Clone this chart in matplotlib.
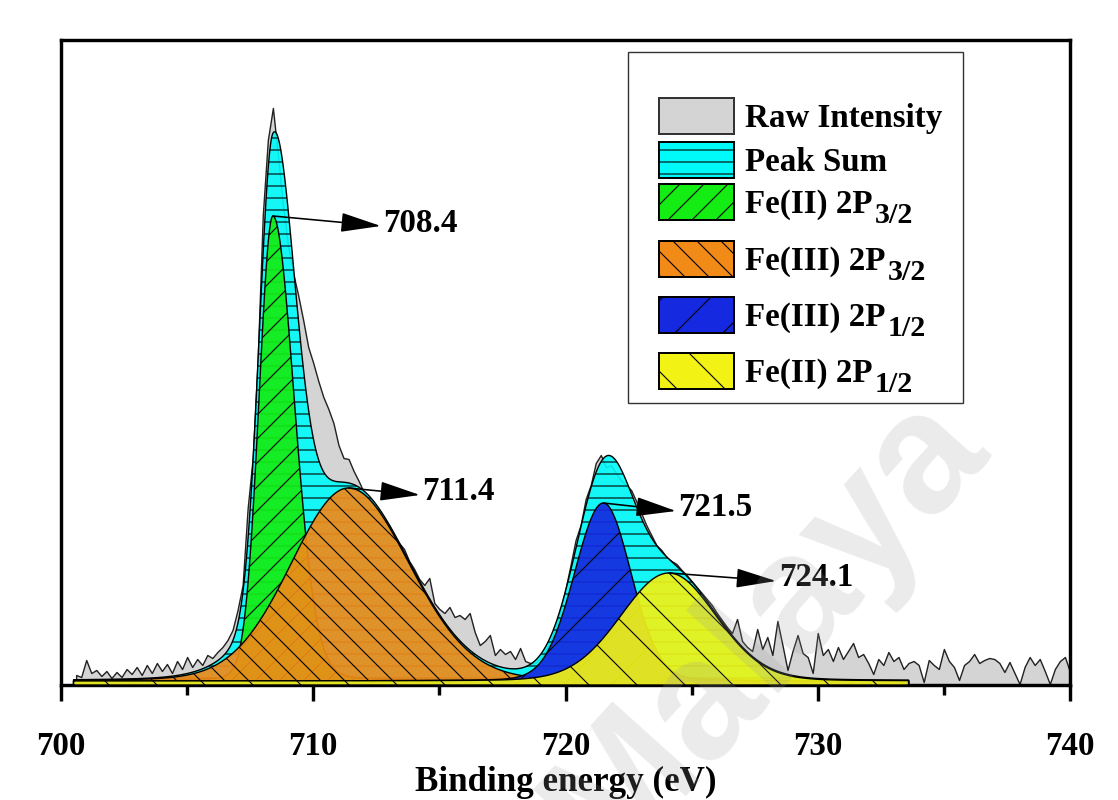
import numpy as np
import matplotlib.pyplot as plt
from matplotlib.patches import Rectangle

plt.rcParams['font.family'] = ['Liberation Serif', 'DejaVu Serif']
plt.rcParams['font.weight'] = 'bold'
plt.rcParams['hatch.linewidth'] = 0.55
plt.rcParams['hatch.color'] = 'black'

# Fe 2p raw spectrum, 0.2 eV steps from 700.6 to 740.0 eV (a.u.)
raw_counts = [
    10, 8, 25, 12, 15, 9, 14, 7, 13, 8, 16, 11, 18, 10, 20, 12, 22, 14, 21, 12,
    24, 16, 28, 18, 26, 20, 30, 27,
    33, 38, 45, 55, 75, 100, 177, 227, 327, 470, 545, 577, 530, 480, 440, 412,
    390, 365, 338, 322, 304, 288, 276, 262, 240, 227, 226, 214, 204, 193,
    186, 178, 172, 165, 160, 150, 142, 136, 124, 116, 106, 100, 107, 82, 76, 72,
    78, 68, 70, 66, 72, 53, 40, 44, 50, 30, 36, 31, 34, 26, 37, 24,
    22, 22, 27, 34, 44, 56, 75, 96, 120, 145, 160, 186, 200, 222, 230, 218,
    220, 212, 205, 200, 195, 184, 172, 160, 150, 140, 135, 128, 124, 121, 115,
    110, 104, 98, 92, 86, 80, 72, 65, 58, 52,
    66, 44, 38, 34, 56, 36, 48, 30, 64, 40, 15, 34, 50, 32, 28, 12, 52, 30, 36,
    24, 38, 26, 34, 42, 28, 31, 22, 11, 26, 20, 33, 24, 28, 16, 22, 24, 20, 3,
    25, 20, 16, 36, 24, 18, 5, 20, 24, 31, 22, 25, 27, 26, 22, 13, 23, 12, 1,
    18, 28, 20, 26, 14, 1, 16, 24, 28, 13,
]
raw_energy = np.linspace(700.6, 740.0, len(raw_counts))

# fitted components: centre (eV), height, left / right half widths (eV)
peak_names = ['Fe(II) 2P', 'Fe(III) 2P', 'Fe(III) 2P', 'Fe(II) 2P']
peak_orbitals = ['3/2', '3/2', '1/2', '1/2']
peak_centres = [708.4, 711.4, 721.5, 724.1]
peak_heights = [465, 193, 178, 108]
peak_hw_left = [0.65, 2.7, 1.35, 2.25]
peak_hw_right = [1.0, 2.85, 1.3, 2.2]
lorentz_frac = 0.08
background = 4
fit_range = (700.5, 733.6)

raw_color = '#d4d4d4'
sum_color = (0.0, 0.98, 0.98)
peak_colors = [(0.08, 0.93, 0.08), (0.95, 0.54, 0.09),
               (0.08, 0.16, 0.88), (0.95, 0.95, 0.08)]
peak_hatches = ['//', '\\\\', '/', '\\']

# label anchors for the peak position callouts
callout_x = [712.78, 714.33, 724.48, 728.45]
callout_y = [462, 193, 177, 107]


def component(x, c, h, wl, wr):
    w = np.where(x < c, wl, wr)
    u = (x - c) / w
    shape = (1 - lorentz_frac) * np.exp(-np.log(2) * u ** 2) + lorentz_frac / (1 + u ** 2)
    return h * shape + background


fit_x = np.linspace(fit_range[0], fit_range[1], 1400)
comps = [component(fit_x, c, h, wl, wr) for c, h, wl, wr in
         zip(peak_centres, peak_heights, peak_hw_left, peak_hw_right)]
peak_sum = sum(comp - background for comp in comps) + background

W, H = 1118, 800
fig = plt.figure(figsize=(W / 144, H / 144), dpi=144)
ax = fig.add_axes([61 / W, 115 / H, 1009 / W, 645 / H])

ax.fill_between(raw_energy, 0, raw_counts, facecolor=raw_color,
                edgecolor='#222222', linewidth=0.7, zorder=1)
ax.fill_between(fit_x, 0, peak_sum, facecolor=sum_color + (0.9,),
                edgecolor='black', linewidth=0.7, hatch='--', zorder=2)
for i, comp in enumerate(comps):
    ax.fill_between(fit_x, 0, comp, facecolor=peak_colors[i] + (0.92,), edgecolor='black',
                    linewidth=0.7, hatch=peak_hatches[i], zorder=3 + i)

# arrows from each component maximum to its position label
for i, c in enumerate(peak_centres):
    top = component(np.array([c]), c, peak_heights[i], peak_hw_left[i], peak_hw_right[i])[0]
    ax.annotate('', xy=(callout_x[i] - 0.1, callout_y[i] - 3), xytext=(c, top),
                arrowprops=dict(arrowstyle='-|>,head_length=1.75,head_width=0.42',
                                color='black', lw=0.8, shrinkA=0, shrinkB=0,
                                mutation_scale=10), zorder=10)
    ax.text(callout_x[i], callout_y[i], f'{c:.1f}', fontsize=16.5, fontweight='bold',
            ha='left', va='center', zorder=10)

ax.set_xlim(700, 740)
ax.set_ylim(0, 645)
ax.set_xticks(range(700, 741, 10))
ax.set_xticks([705, 715, 725, 735], minor=True)
ax.set_yticks([])
ax.tick_params(axis='x', which='major', direction='out', length=8, width=1.7,
               pad=15, labelsize=16.5)
ax.tick_params(axis='x', which='minor', direction='out', length=5, width=1.7)
for sp in ax.spines.values():
    sp.set_linewidth(1.7)
ax.set_xlabel('Binding energy (eV)', fontsize=17.5, fontweight='bold', labelpad=2)

# legend, laid out by hand in figure pixels so the subscripted rows get extra room
legend_faces = [raw_color, sum_color] + peak_colors
legend_hatches = [None, '--'] + peak_hatches
legend_names = ['Raw Intensity', 'Peak Sum'] + peak_names
legend_subs = [None, None] + peak_orbitals
row_tops = [98, 142, 184, 241, 297, 353]
fig_px = fig.transFigure

ax.add_patch(Rectangle((628 / W, 1 - 403 / H), 335 / W, 351 / H, transform=fig_px,
                       facecolor='white', edgecolor='#333333', linewidth=0.7,
                       zorder=8, clip_on=False))
for i, top in enumerate(row_tops):
    ax.add_patch(Rectangle((659 / W, 1 - (top + 36) / H), 75 / W, 36 / H,
                           transform=fig_px, facecolor=legend_faces[i],
                           edgecolor='#333333' if i == 0 else 'black', linewidth=1.0,
                           hatch=legend_hatches[i], zorder=9, clip_on=False))
    name = ax.text(745 / W, 1 - (top + 18 + 11) / H, legend_names[i], transform=fig_px,
                   fontsize=16.5, fontweight='bold', ha='left', va='baseline',
                   zorder=9, clip_on=False)
    if legend_subs[i]:
        ax.annotate(legend_subs[i], xy=(1, 0), xycoords=name, xytext=(1, -1.5),
                    textcoords='offset points', fontsize=15, fontweight='bold',
                    ha='left', va='baseline', zorder=9, annotation_clip=False)

# repository watermark
fig.text(0.685, 0.215, 'Malaya', rotation=48, fontsize=85, family='Liberation Sans',
         color='#9a9a9a', alpha=0.2, ha='center', va='center', zorder=20)

fig.savefig('out.png', dpi=144)
